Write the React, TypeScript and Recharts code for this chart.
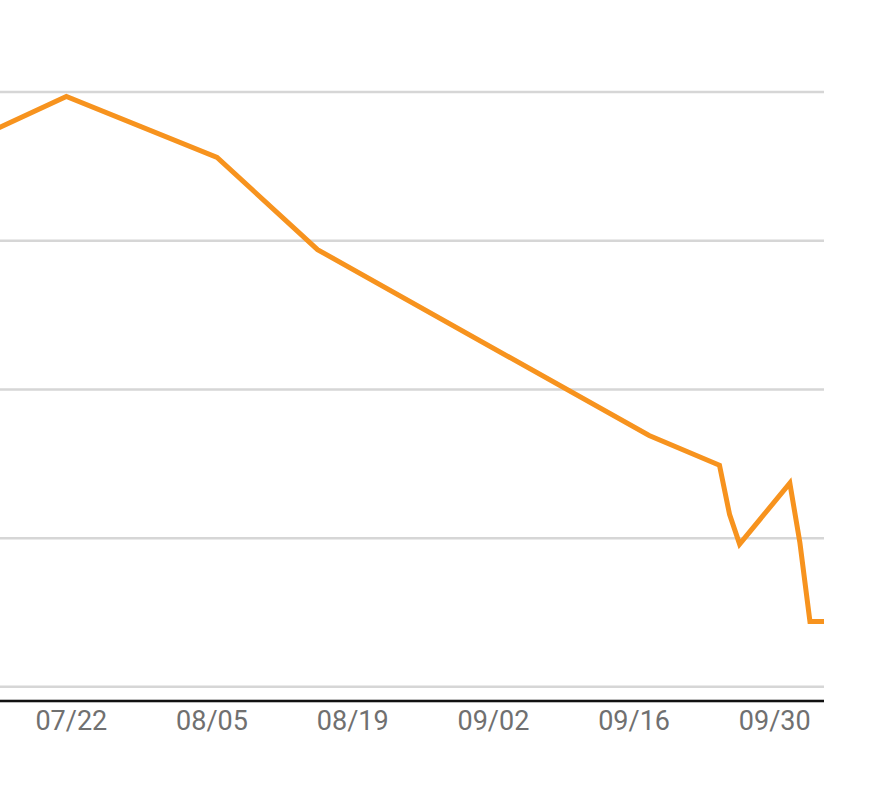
import React from 'react';
import { LineChart, Line, XAxis, YAxis, CartesianGrid } from 'recharts';

// day offsets from 07/22 (data sampled around midday)
const days = [-7.5, -0.5, 14.5, 24.5, 57.5, 64.5, 65.5, 66.5, 71.5, 72.5, 73.5, 74.9];
const values = [375, 397, 356, 294, 169, 149, 116, 96, 137, 97, 44, 44];

const tickDays = [0, 14, 28, 42, 56, 70];
const tickLabels = ['07/22', '08/05', '08/19', '09/02', '09/16', '09/30'];
const yTicks = [0, 100, 200, 300, 400];

const data = days.map((d, i) => ({ day: d, value: values[i] }));

export default function App() {
  return (
    <div style={{ position: 'absolute', left: -4, top: 0, width: 828, height: 780, background: '#fff' }}>
      <LineChart width={828} height={780} data={data} margin={{ top: 92, right: 0, left: 0, bottom: 29 }}>
        <CartesianGrid vertical={false} stroke="#d6d6d6" strokeWidth={2.5} />
        <XAxis
          dataKey="day"
          type="number"
          domain={[-7.5, 74.9]}
          ticks={tickDays}
          tickFormatter={(v) => tickLabels[tickDays.indexOf(v)] ?? ''}
          height={50}
          tickLine={false}
          tickSize={0}
          tickMargin={10}
          axisLine={{ stroke: '#111', strokeWidth: 2.5 }}
          tick={{ fill: '#707070', fontSize: 27, fontFamily: 'Roboto' }}
          interval={0}
        />
        <YAxis hide domain={[-9.5, 400]} ticks={yTicks} />
        <Line
          type="linear"
          dataKey="value"
          stroke="#F7931E"
          strokeWidth={5}
          dot={false}
          isAnimationActive={false}
        />
      </LineChart>
    </div>
  );
}
